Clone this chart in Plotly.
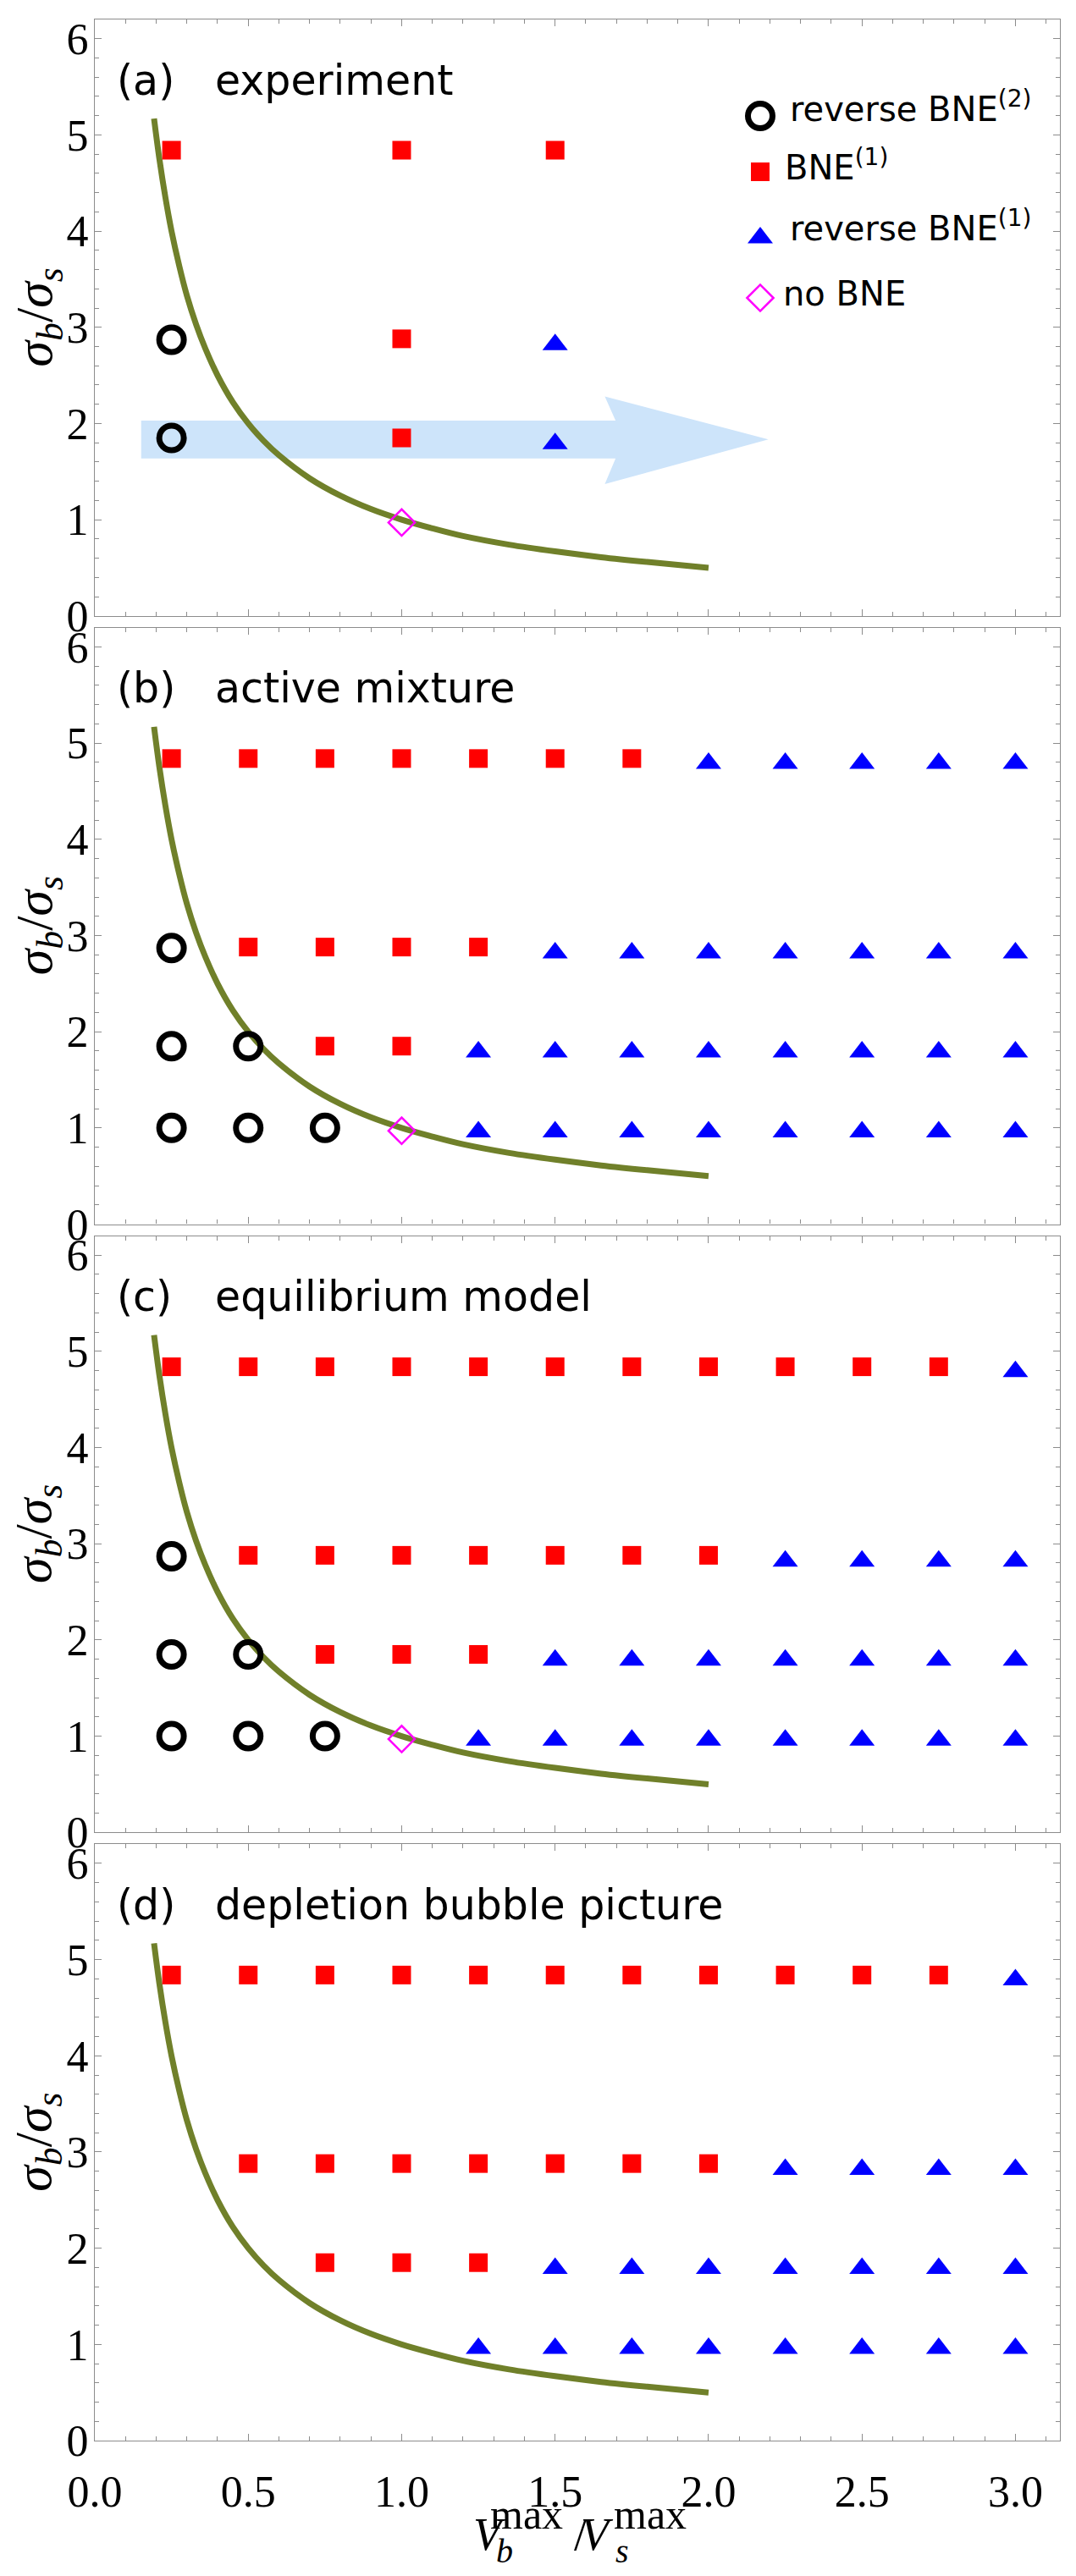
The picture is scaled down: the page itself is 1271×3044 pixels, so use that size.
import plotly.graph_objects as go

# ---------------- data ----------------
x_ticks = [0.0, 0.5, 1.0, 1.5, 2.0, 2.5, 3.0]
x_tick_labels = ["0.0", "0.5", "1.0", "1.5", "2.0", "2.5", "3.0"]
y_ticks = [0, 1, 2, 3, 4, 5, 6]
y_tick_labels = ["0", "1", "2", "3", "4", "5", "6"]

panel_tags = ["(a)", "(b)", "(c)", "(d)"]
panel_titles = ["experiment", "active mixture", "equilibrium model", "depletion bubble picture"]

legend_names = ["reverse BNE<sup>(2)</sup>", "BNE<sup>(1)</sup>", "reverse BNE<sup>(1)</sup>", "no BNE"]

# boundary curve (olive line)
curve_x = [0.193, 0.21, 0.23, 0.25, 0.275, 0.3, 0.33, 0.36, 0.4, 0.45, 0.5, 0.55, 0.6, 0.7,
           0.8, 0.9, 1.0, 1.1, 1.2, 1.35, 1.5, 1.65, 1.8, 2.0]
curve_y = [5.17, 4.76, 4.35, 4.0, 3.64, 3.33, 3.03, 2.78, 2.5, 2.22, 2.0, 1.82, 1.67, 1.43,
           1.25, 1.11, 1.0, 0.91, 0.83, 0.74, 0.67, 0.61, 0.56, 0.5]

# (a) experiment
a_circle_x = [0.25, 0.25]
a_circle_y = [2.87, 1.85]
a_square_x = [0.25, 1.0, 1.5, 1.0, 1.0]
a_square_y = [4.84, 4.84, 4.84, 2.88, 1.85]
a_tri_x = [1.5, 1.5]
a_tri_y = [2.82, 1.79]
a_dia_x = [1.0]
a_dia_y = [0.97]

# (b) active mixture
b_circle_x = [0.25, 0.25, 0.5, 0.25, 0.5, 0.75]
b_circle_y = [2.87, 1.85, 1.85, 1.0, 1.0, 1.0]
b_square_x = [0.25, 0.5, 0.75, 1.0, 1.25, 1.5, 1.75, 0.5, 0.75, 1.0, 1.25, 0.75, 1.0]
b_square_y = [4.84] * 7 + [2.88] * 4 + [1.85] * 2
b_tri_x = [2.0, 2.25, 2.5, 2.75, 3.0,
           1.5, 1.75, 2.0, 2.25, 2.5, 2.75, 3.0,
           1.25, 1.5, 1.75, 2.0, 2.25, 2.5, 2.75, 3.0,
           1.25, 1.5, 1.75, 2.0, 2.25, 2.5, 2.75, 3.0]
b_tri_y = [4.79] * 5 + [2.82] * 7 + [1.79] * 8 + [0.96] * 8
b_dia_x = [1.0]
b_dia_y = [0.97]

# (c) equilibrium model
c_circle_x = [0.25, 0.25, 0.5, 0.25, 0.5, 0.75]
c_circle_y = [2.87, 1.85, 1.85, 1.0, 1.0, 1.0]
c_square_x = [0.25, 0.5, 0.75, 1.0, 1.25, 1.5, 1.75, 2.0, 2.25, 2.5, 2.75,
              0.5, 0.75, 1.0, 1.25, 1.5, 1.75, 2.0,
              0.75, 1.0, 1.25]
c_square_y = [4.84] * 11 + [2.88] * 7 + [1.85] * 3
c_tri_x = [3.0,
           2.25, 2.5, 2.75, 3.0,
           1.5, 1.75, 2.0, 2.25, 2.5, 2.75, 3.0,
           1.25, 1.5, 1.75, 2.0, 2.25, 2.5, 2.75, 3.0]
c_tri_y = [4.79] + [2.82] * 4 + [1.79] * 7 + [0.96] * 8
c_dia_x = [1.0]
c_dia_y = [0.97]

# (d) depletion bubble picture
d_circle_x = []
d_circle_y = []
d_square_x = [0.25, 0.5, 0.75, 1.0, 1.25, 1.5, 1.75, 2.0, 2.25, 2.5, 2.75,
              0.5, 0.75, 1.0, 1.25, 1.5, 1.75, 2.0,
              0.75, 1.0, 1.25]
d_square_y = [4.84] * 11 + [2.88] * 7 + [1.85] * 3
d_tri_x = [3.0,
           2.25, 2.5, 2.75, 3.0,
           1.5, 1.75, 2.0, 2.25, 2.5, 2.75, 3.0,
           1.25, 1.5, 1.75, 2.0, 2.25, 2.5, 2.75, 3.0]
d_tri_y = [4.79] + [2.82] * 4 + [1.79] * 7 + [0.96] * 8
d_dia_x = []
d_dia_y = []

# light-blue arrow in panel (a), outline vertices in data units
arrow_x = [0.151, 1.697, 1.662, 2.195, 1.662, 1.697, 0.151]
arrow_y = [1.636, 1.636, 1.37, 1.835, 2.28, 2.03, 2.03]

# ---------------- layout constants ----------------
W, H = 1271, 3044
ML, MR, MT, MB = 112, 19, 23, 160
PW = W - ML - MR
PH = H - MT - MB
GAP = 14
PANEL_H = (PH - 3 * GAP) / 4
X_RANGE = [0, 3.145]
Y_RANGE = [0, 6.2]

OLIVE = "rgb(112,128,42)"
ARROW_FILL = "rgb(205,228,250)"
FRAME = "#8c8c8c"
SANS = "DejaVu Sans"
SERIF = "Liberation Serif"


def pxx(px):
    return (px - ML) / PW


def pxy(py):
    return (H - MB - py) / PH


def panel_top(i):
    return MT + i * (PANEL_H + GAP)


panels = [
    (a_circle_x, a_circle_y, a_square_x, a_square_y, a_tri_x, a_tri_y, a_dia_x, a_dia_y),
    (b_circle_x, b_circle_y, b_square_x, b_square_y, b_tri_x, b_tri_y, b_dia_x, b_dia_y),
    (c_circle_x, c_circle_y, c_square_x, c_square_y, c_tri_x, c_tri_y, c_dia_x, c_dia_y),
    (d_circle_x, d_circle_y, d_square_x, d_square_y, d_tri_x, d_tri_y, d_dia_x, d_dia_y),
]

marker_circle = dict(symbol="circle-open", size=29, color="black", line=dict(width=7, color="black"))
marker_square = dict(symbol="square", size=22, color="#ff0000", line=dict(width=0))
marker_tri = dict(symbol="triangle-up", size=26, color="#0000ff", line=dict(width=0))
marker_dia = dict(symbol="diamond-open", size=24, color="#ff00ff", line=dict(width=2.5, color="#ff00ff"))

fig = go.Figure()
layout = dict(
    width=W, height=H,
    margin=dict(l=ML, r=MR, t=MT, b=MB, pad=0),
    paper_bgcolor="white", plot_bgcolor="white",
    showlegend=False,
    annotations=[], shapes=[],
)

for i, (cx, cy, sx, sy, tx, ty, dx, dy) in enumerate(panels):
    xa = "x" if i == 0 else f"x{i + 1}"
    ya = "y" if i == 0 else f"y{i + 1}"
    fig.add_trace(go.Scatter(x=curve_x, y=curve_y, mode="lines", xaxis=xa, yaxis=ya,
                             line=dict(color=OLIVE, width=7, shape="spline"),
                             hoverinfo="skip"))
    fig.add_trace(go.Scatter(x=cx, y=cy, mode="markers", xaxis=xa, yaxis=ya, marker=marker_circle,
                             name="reverse BNE(2)"))
    fig.add_trace(go.Scatter(x=sx, y=sy, mode="markers", xaxis=xa, yaxis=ya, marker=marker_square,
                             name="BNE(1)"))
    fig.add_trace(go.Scatter(x=tx, y=ty, mode="markers", xaxis=xa, yaxis=ya, marker=marker_tri,
                             name="reverse BNE(1)"))
    fig.add_trace(go.Scatter(x=dx, y=dy, mode="markers", xaxis=xa, yaxis=ya, marker=marker_dia,
                             name="no BNE"))

    top = panel_top(i)
    bot = top + PANEL_H
    axis_common = dict(
        showgrid=False, zeroline=False, showline=True, linecolor=FRAME, linewidth=1.2,
        mirror="ticks", ticks="inside", tickcolor=FRAME, tickwidth=1, ticklen=8,
        tickfont=dict(family=SERIF, size=52, color="black"),
    )
    layout["xaxis" if i == 0 else f"xaxis{i + 1}"] = dict(
        axis_common, domain=[0, 1], range=X_RANGE, anchor=ya,
        tickmode="array", tickvals=x_ticks, ticktext=x_tick_labels,
        minor=dict(dtick=0.1, tick0=0, ticks="inside", ticklen=5, tickcolor=FRAME, tickwidth=1),
        showticklabels=(i == 3), ticklabelstandoff=14,
    )
    layout["yaxis" if i == 0 else f"yaxis{i + 1}"] = dict(
        axis_common, domain=[pxy(bot), pxy(top)], range=Y_RANGE, anchor=xa,
        tickmode="array", tickvals=y_ticks, ticktext=y_tick_labels,
        minor=dict(dtick=0.2, tick0=0, ticks="inside", ticklen=5, tickcolor=FRAME, tickwidth=1),
        ticklabelstandoff=-4,
    )

    # panel label and title (baseline ~89 px below the panel top)
    base = top + 89
    fs = 49
    layout["annotations"].append(dict(
        text=panel_tags[i], xref="paper", yref="paper", x=pxx(136), y=pxy(base - 0.346 * fs),
        xanchor="left", yanchor="middle", showarrow=False,
        font=dict(family=SANS, size=fs, color="black")))
    layout["annotations"].append(dict(
        text=panel_titles[i], xref="paper", yref="paper", x=pxx(252), y=pxy(base - 0.346 * fs),
        xanchor="left", yanchor="middle", showarrow=False,
        font=dict(family=SANS, size=fs, color="black")))

    # y-axis title
    layout["annotations"].append(dict(
        text="<i>σ<sub>b</sub></i>/<i>σ<sub>s</sub></i>", xref="paper", yref="paper",
        x=pxx(44), y=pxy((top + bot) / 2), xanchor="center", yanchor="middle",
        textangle=-90, showarrow=False, font=dict(family=SERIF, size=62, color="black")))

# arrow shape in panel (a)
arrow_path = "M " + " L ".join(f"{x},{y}" for x, y in zip(arrow_x, arrow_y)) + " Z"
layout["shapes"].append(dict(type="path", path=arrow_path, xref="x", yref="y",
                             fillcolor=ARROW_FILL, line=dict(width=0), layer="below"))

# legend inside panel (a): keys drawn at pixel positions, converted to panel-(a) data units
LEG_KEY_PX = 898
leg_key_py = [137, 203, 281, 352]
leg_text_left = [931, 925, 931, 923]
leg_baseline = [144, 213, 285, 362]
leg_markers = [marker_circle, marker_square, marker_tri, marker_dia]
a_top = panel_top(0)
a_bot = a_top + PANEL_H


def data_x_a(px):
    return X_RANGE[0] + (px - ML) / PW * (X_RANGE[1] - X_RANGE[0])


def data_y_a(py):
    return Y_RANGE[0] + (a_bot - py) / PANEL_H * (Y_RANGE[1] - Y_RANGE[0])


for k in range(4):
    fig.add_trace(go.Scatter(x=[data_x_a(LEG_KEY_PX)], y=[data_y_a(leg_key_py[k])], mode="markers",
                             xaxis="x", yaxis="y", marker=leg_markers[k], hoverinfo="skip",
                             cliponaxis=False))
    lfs = 40
    layout["annotations"].append(dict(
        text=legend_names[k], xref="paper", yref="paper",
        x=pxx(leg_text_left[k]), y=pxy(leg_baseline[k] + 0.236 * lfs + 1),
        xanchor="left", yanchor="bottom", showarrow=False,
        font=dict(family=SANS, size=lfs, color="black")))

# x-axis title V_b^max / V_s^max, stacked sub/superscripts (left px, baseline px, size)
xtitle_parts = [
    ("<i>V</i>", 557, 3013, 54),
    ("max", 577, 2988, 50),
    ("<i>b</i>", 584, 3028, 40),
    ("/", 676, 3013, 54),
    ("<i>V</i>", 684, 3013, 54),
    ("max", 723, 2988, 50),
    ("<i>s</i>", 725, 3028, 40),
]
for txt, left, baseline, fsz in xtitle_parts:
    layout["annotations"].append(dict(
        text=txt, xref="paper", yref="paper", x=pxx(left), y=pxy(baseline - 0.3375 * fsz),
        xanchor="left", yanchor="middle", showarrow=False,
        font=dict(family=SERIF, size=fsz, color="black")))

fig.update_layout(**layout)
fig.write_html("out.html")
